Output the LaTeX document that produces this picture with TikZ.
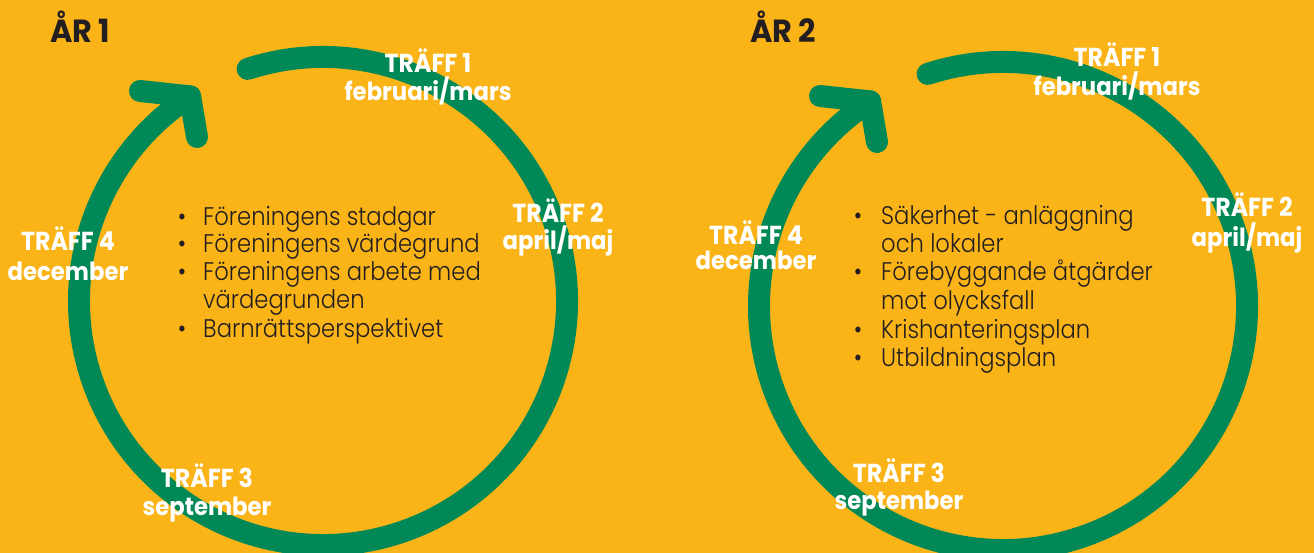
\documentclass[tikz,border=0pt]{standalone}
\usepackage{fontspec}
\usetikzlibrary{calc}
\setmainfont{Poppins}
\IfFontExistsTF{Poppins Light}
  {\newfontfamily\bodyfont{Poppins Light}[FakeStretch=0.89]}
  {\newfontfamily\bodyfont{Poppins}[FakeStretch=0.89]}
\newfontfamily\labfont{Poppins}[FakeStretch=0.91]
\newfontfamily\yearfont{Poppins}[FakeStretch=0.95]
\definecolor{bg}{RGB}{251,180,24}
\definecolor{grn}{RGB}{0,137,86}
\definecolor{ink}{RGB}{35,31,32}
\begin{document}
\begin{tikzpicture}[x=1pt,y=1pt,
  ring/.style={draw=grn, line width=22pt, line cap=round},
  head/.style={draw=grn, line width=22pt, line cap=round, line join=round},
  labtop/.style={text=white, inner sep=0pt, anchor=base, font=\labfont\fontsize{26}{30}\selectfont\bfseries},
  labbot/.style={text=white, inner sep=0pt, anchor=base, font=\labfont\fontsize{25}{30}\selectfont\bfseries},
  year/.style={text=ink, inner sep=0pt, anchor=base west, font=\yearfont\fontsize{32}{36}\selectfont\bfseries},
  body/.style={text=ink, inner sep=0pt, anchor=base west, font=\bodyfont\fontsize{25.5}{28.4}\selectfont},
  bul/.style={text=ink, inner sep=0pt, anchor=base, font=\bodyfont\fontsize{25.5}{28.4}\selectfont}]
\fill[bg] (0,0) rectangle (1314,553);
\useasboundingbox (0,0) rectangle (1314,553);

% ---------- Year 1 ----------
\coordinate (cL) at (323,252);
\coordinate (sL) at ($(cL)+(108:244)$);
\draw[ring] (sL) arc[start angle=108,end angle=-237,radius=244];
\coordinate (aL1) at (140,462);
\coordinate (tL) at (190.1,456.6);
\coordinate (aL2) at (197,416);
\draw[head] (aL1) -- (tL) -- (aL2);

\node[year] (y1) at (50,510) {ÅR 1};

\node[labtop] (l1a) at (428,480) {TRÄFF 1};
\node[labbot] (l1b) at (428,452) {februari/mars};
\node[labtop] (l2a) at (558,330) {TRÄFF 2};
\node[labbot] (l2b) at (558,303) {april/maj};
\node[labtop] (l4a) at (68,302) {TRÄFF 4};
\node[labbot] (l4b) at (68,272) {december};
\node[labtop] (l3a) at (207,65) {TRÄFF 3};
\node[labbot] (l3b) at (207,37) {september};

\foreach \yy/\t [count=\i] in {327/Föreningens stadgar, 300/Föreningens värdegrund, 272/Föreningens arbete med, 244/värdegrunden, 215/Barnrättsperspektivet}{
  \node[body] (b1\i) at (203,\yy) {\t};
}
\foreach \yy [count=\i] in {327,300,272,215}{
  \node[bul] (d1\i) at (182,\yy) {•};
}

% ---------- Year 2 ----------
\begin{scope}[shift={(680,-5)}]
\coordinate (cR) at (323,252);
\coordinate (sR) at ($(cR)+(108:244)$);
\draw[ring] (sR) arc[start angle=108,end angle=-237,radius=244];
\coordinate (aR1) at (140,462);
\coordinate (tR) at (190.1,456.6);
\coordinate (aR2) at (197,416);
\draw[head] (aR1) -- (tR) -- (aR2);
\end{scope}

\node[year] (y2) at (750,510) {ÅR 2};

\node[labtop] (r1a) at (1117,486) {TRÄFF 1};
\node[labbot] (r1b) at (1117,457) {februari/mars};
\node[labtop] (r2a) at (1247,336) {TRÄFF 2};
\node[labbot] (r2b) at (1247,306) {april/maj};
\node[labtop] (r4a) at (756,308) {TRÄFF 4};
\node[labbot] (r4b) at (756,283) {december};
\node[labtop] (r3a) at (899,70) {TRÄFF 3};
\node[labbot] (r3b) at (899,43) {september};

\foreach \yy/\t [count=\i] in {328/Säkerhet - anläggning, 300/och lokaler, 272/Förebyggande åtgärder, 243/mot olycksfall, 214/Krishanteringsplan, 186/Utbildningsplan}{
  \node[body] (b2\i) at (881,\yy) {\t};
}
\foreach \yy [count=\i] in {328,272,214,186}{
  \node[bul] (d2\i) at (858,\yy) {•};
}
\end{tikzpicture}
\end{document}
